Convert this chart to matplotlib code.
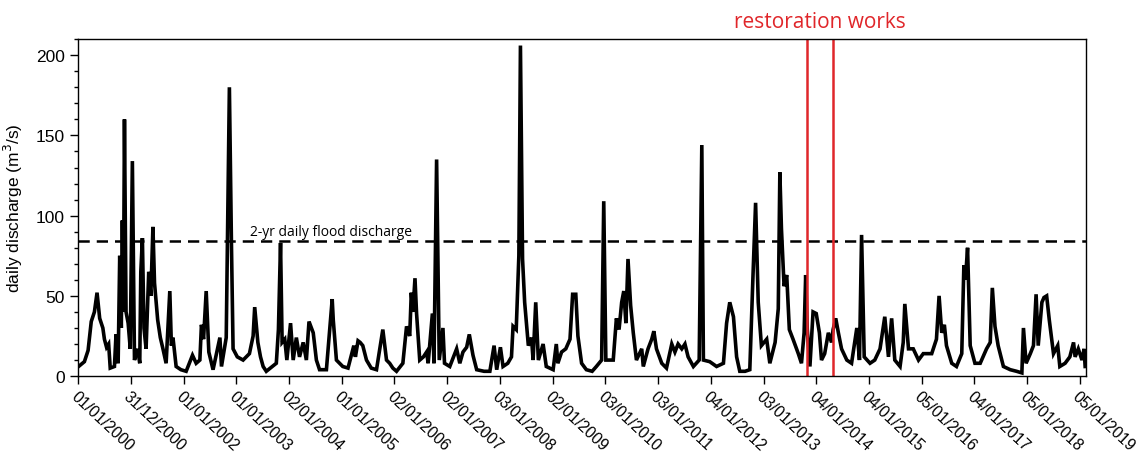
import numpy as np
import matplotlib
matplotlib.use("Agg")
import matplotlib.pyplot as plt

years = [
    0.01, 0.12, 0.19, 0.25, 0.31, 0.36, 0.41, 0.47, 0.50, 0.54,
    0.58, 0.61, 0.69, 0.72, 0.76, 0.79, 0.82, 0.84, 0.86, 0.88,
    0.91, 0.95, 0.99, 1.03, 1.07, 1.13, 1.17, 1.19, 1.22, 1.25,
    1.29, 1.34, 1.38, 1.42, 1.45, 1.51, 1.56, 1.61, 1.67, 1.74,
    1.77, 1.80, 1.86, 1.95, 2.05, 2.17, 2.24, 2.31, 2.34, 2.38,
    2.43, 2.48, 2.56, 2.69, 2.72, 2.81, 2.87, 2.91, 2.94, 3.02,
    3.13, 3.25, 3.32, 3.35, 3.41, 3.46, 3.51, 3.57, 3.76, 3.80,
    3.84, 3.87, 3.92, 3.96, 4.03, 4.08, 4.14, 4.20, 4.27, 4.33,
    4.38, 4.46, 4.52, 4.58, 4.71, 4.82, 4.84, 4.90, 5.02, 5.12,
    5.23, 5.26, 5.31, 5.35, 5.40, 5.47, 5.56, 5.66, 5.78, 5.85,
    5.91, 5.97, 6.04, 6.16, 6.23, 6.29, 6.32, 6.35, 6.39, 6.42,
    6.48, 6.55, 6.61, 6.64, 6.72, 6.75, 6.80, 6.85, 6.92, 6.95,
    7.05, 7.18, 7.24, 7.30, 7.37, 7.42, 7.49, 7.56, 7.70, 7.81,
    7.89, 7.94, 8.01, 8.06, 8.15, 8.22, 8.25, 8.31, 8.36, 8.39,
    8.43, 8.47, 8.54, 8.60, 8.63, 8.68, 8.73, 8.82, 8.88, 9.01,
    9.07, 9.10, 9.17, 9.25, 9.33, 9.38, 9.44, 9.48, 9.55, 9.64,
    9.75, 9.83, 9.93, 9.97, 10.01, 10.15, 10.21, 10.26, 10.31, 10.35,
    10.39, 10.43, 10.48, 10.53, 10.59, 10.69, 10.72, 10.81, 10.88, 10.92,
    10.97, 11.07, 11.16, 11.26, 11.32, 11.38, 11.45, 11.51, 11.57, 11.67,
    11.78, 11.83, 11.86, 11.98, 12.11, 12.24, 12.30, 12.36, 12.43, 12.49,
    12.55, 12.65, 12.74, 12.80, 12.85, 12.90, 12.96, 13.06, 13.12, 13.22,
    13.28, 13.31, 13.34, 13.39, 13.44, 13.49, 13.56, 13.66, 13.72, 13.77,
    13.80, 13.83, 13.88, 13.94, 14.00, 14.06, 14.10, 14.16, 14.23, 14.29,
    14.32, 14.37, 14.42, 14.48, 14.58, 14.67, 14.77, 14.82, 14.86, 14.91,
    15.02, 15.11, 15.21, 15.30, 15.37, 15.43, 15.49, 15.59, 15.65, 15.68,
    15.75, 15.84, 15.94, 16.03, 16.19, 16.28, 16.33, 16.38, 16.43, 16.47,
    16.57, 16.66, 16.76, 16.80, 16.83, 16.87, 16.92, 17.01, 17.11, 17.23,
    17.30, 17.34, 17.39, 17.45, 17.55, 17.68, 17.80, 17.90, 17.93, 17.98,
    18.06, 18.12, 18.17, 18.21, 18.28, 18.32, 18.37, 18.42, 18.50, 18.58,
    18.62, 18.72, 18.81, 18.88, 18.91, 18.97, 19.04, 19.08, 19.10,
]
discharge = [
    6, 9, 16, 34, 40, 52, 36, 30, 23, 18,
    20, 5, 6, 26, 8, 75, 30, 97, 40, 160,
    40, 33, 17, 134, 10, 17, 8, 65, 86, 30,
    17, 65, 50, 93, 58, 35, 24, 17, 8, 53,
    19, 24, 6, 4, 3, 13, 8, 10, 32, 23,
    53, 15, 4, 24, 6, 24, 180, 80, 17, 12,
    10, 14, 25, 43, 21, 12, 6, 3, 8, 29,
    83, 21, 23, 10, 33, 10, 24, 12, 21, 10,
    34, 27, 10, 4, 4, 48, 35, 10, 6, 5,
    19, 12, 22, 21, 19, 10, 5, 4, 29, 10,
    8, 5, 3, 8, 31, 25, 52, 40, 61, 39,
    10, 12, 15, 8, 39, 8, 135, 10, 30, 8,
    6, 17, 8, 15, 18, 26, 13, 4, 3, 3,
    19, 4, 18, 6, 8, 12, 31, 29, 75, 206,
    73, 46, 19, 24, 10, 46, 10, 20, 6, 4,
    20, 8, 15, 17, 23, 51, 51, 25, 8, 4,
    3, 6, 10, 109, 10, 10, 36, 29, 46, 53,
    33, 73, 44, 27, 10, 17, 6, 17, 23, 28,
    17, 8, 5, 20, 15, 20, 17, 20, 12, 6,
    10, 144, 10, 9, 6, 8, 33, 46, 37, 12,
    3, 3, 4, 62, 108, 46, 19, 23, 8, 21,
    42, 127, 92, 56, 63, 29, 23, 14, 8, 27,
    63, 29, 6, 40, 39, 27, 10, 14, 27, 21,
    29, 36, 27, 17, 10, 8, 30, 10, 88, 12,
    8, 10, 17, 37, 12, 36, 10, 6, 21, 45,
    17, 17, 10, 14, 14, 23, 50, 27, 32, 19,
    8, 6, 14, 69, 60, 80, 19, 8, 8, 17,
    21, 55, 31, 19, 6, 4, 3, 2, 30, 8,
    14, 19, 51, 19, 46, 49, 50, 35, 14, 19,
    6, 8, 12, 21, 12, 17, 10, 17, 6,
]

tick_labels = [
    "01/01/2000", "31/12/2000", "01/01/2002", "01/01/2003", "02/01/2004",
    "01/01/2005", "02/01/2006", "02/01/2007", "03/01/2008", "02/01/2009",
    "03/01/2010", "03/01/2011", "04/01/2012", "03/01/2013", "04/01/2014",
    "04/01/2015", "05/01/2016", "04/01/2017", "05/01/2018", "05/01/2019",
]
flood_2yr = 84
works_start, works_end = 13.82, 14.31

RED = "#e0262a"

fig = plt.figure(figsize=(11.48, 4.56), dpi=100)
ax = fig.add_axes([0.068, 0.173, 0.8777, 0.739])

ax.plot(years, discharge, color="black", lw=2.6, solid_joinstyle="miter")
ax.axhline(flood_2yr, color="black", lw=1.8, ls=(0, (4.5, 2.8)))
ax.text(4.79, flood_2yr + 1.5, "2-yr daily flood discharge", ha="center",
        va="bottom", fontsize=10, family="Open Sans")

for xv in (works_start, works_end):
    ax.axvline(xv, color=RED, lw=1.8)
ax.text((works_start + works_end) / 2, 1.022, "restoration works",
        transform=ax.get_xaxis_transform(), ha="center", va="bottom",
        color=RED, fontsize=15, family="Open Sans")

ax.set_xlim(0, 19.11)
ax.set_ylim(0, 210)
ax.set_xticks(range(len(tick_labels)))
ax.set_xticklabels(tick_labels, rotation=-43, ha="left", va="top",
                   rotation_mode="anchor", fontsize=11.3,
                   family="Liberation Sans")
ax.set_yticks(range(0, 201, 50))
ax.set_yticks(range(0, 211, 10), minor=True)
ax.tick_params(axis="y", labelsize=12.5, length=6, width=1)
ax.tick_params(axis="y", which="minor", length=3, width=1)
ax.tick_params(axis="x", length=6, width=1, pad=3)
for lab in ax.get_yticklabels():
    lab.set_family("Liberation Sans")
ax.set_ylabel("daily discharge (m$^3$/s)", fontsize=12.5,
              family="Liberation Sans", labelpad=8)
for sp in ax.spines.values():
    sp.set_linewidth(1.0)

fig.savefig("out.png", dpi=100)
